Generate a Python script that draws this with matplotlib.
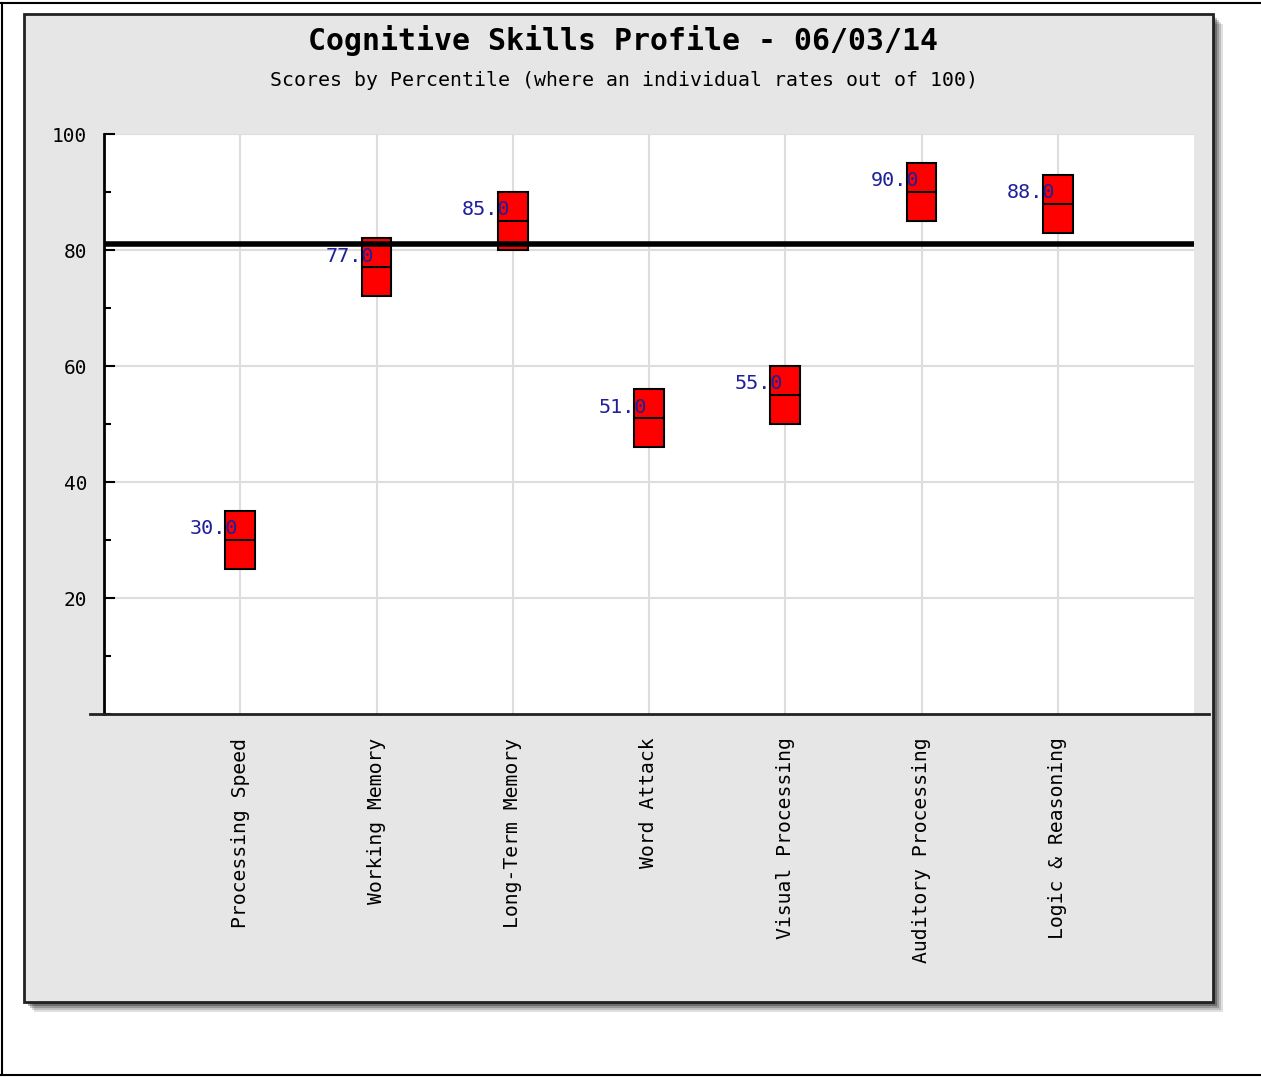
import matplotlib.pyplot as plt
from matplotlib.patches import Rectangle
from matplotlib.lines import Line2D
from matplotlib.ticker import MultipleLocator

# data
skills = ['Processing Speed', 'Working Memory', 'Long-Term Memory', 'Word Attack',
          'Visual Processing', 'Auditory Processing', 'Logic & Reasoning']
scores = [30.0, 77.0, 85.0, 51.0, 55.0, 90.0, 88.0]
lows = [25, 72, 80, 46, 50, 85, 83]
highs = [35, 82, 90, 56, 60, 95, 93]
ref_level = 81

W, H = 1261, 1077
fig = plt.figure(figsize=(W / 100, H / 100), dpi=100)
fig.patch.set_facecolor('white')


def fx(px):
    return px / W


def fy(py):
    return 1 - py / H


# outer frame (top, left, bottom)
for xs, ys in [((0, 1), (fy(3), fy(3))), ((fx(2), fx(2)), (fy(3), fy(1075))),
               ((0, 1), (fy(1075), fy(1075)))]:
    fig.add_artist(Line2D(xs, ys, color='black', lw=1.5, transform=fig.transFigure))

# shadow of the gray panel
for i, a in enumerate([0.12, 0.15, 0.2, 0.28, 0.38]):
    off = 10 - i * 2
    fig.add_artist(Rectangle((fx(24 + off), fy(1002 + off)), fx(1213 - 24), (1002 - 14) / H,
                             transform=fig.transFigure, facecolor='black', alpha=a,
                             edgecolor='none', zorder=-2))
fig.add_artist(Rectangle((fx(24), fy(1002)), fx(1213 - 24), (1002 - 14) / H,
                         transform=fig.transFigure, facecolor='#e6e6e6',
                         edgecolor='#222222', lw=2, zorder=-1))

mono = 'DejaVu Sans Mono'
fig.text(fx(623), fy(41), 'Cognitive Skills Profile - 06/03/14', ha='center', va='center',
         fontsize=21.5, fontweight='bold', family=mono)
fig.text(fx(624), fy(81), 'Scores by Percentile (where an individual rates out of 100)',
         ha='center', va='center', fontsize=14.3, family=mono)

ax = fig.add_axes([fx(104), fy(714), fx(1194 - 104), (714 - 134) / H])
ax.set_zorder(2)
ax.set_facecolor('white')
ax.set_xlim(0, 8)
ax.set_ylim(0, 100)

xs = list(range(1, len(skills) + 1))
ax.set_xticks(xs)
ax.set_xticklabels(skills, rotation=90, family=mono, fontsize=14.2, va='top')
ax.tick_params(axis='x', length=0, pad=17)
ax.yaxis.set_major_locator(MultipleLocator(20))
ax.yaxis.set_minor_locator(MultipleLocator(10))
ax.set_yticks([20, 40, 60, 80, 100])
ax.tick_params(axis='y', which='major', direction='in', length=8, width=1.5, pad=12,
               labelsize=14)
ax.tick_params(axis='y', which='minor', direction='in', length=5, width=1.5)
for lab in ax.get_yticklabels():
    lab.set_family(mono)
ax.grid(True, axis='both', which='major', color='#dddddd', lw=1.5, zorder=0)
ax.set_axisbelow(True)

for s in ['top', 'right', 'bottom']:
    ax.spines[s].set_visible(False)
ax.spines['left'].set_linewidth(2)

# extended x axis line
fig.add_artist(Line2D((fx(90), fx(1209)), (fy(714), fy(714)), color='#222222', lw=2,
                      transform=fig.transFigure, zorder=5))

heights = [h - l for h, l in zip(highs, lows)]
ax.bar(xs, heights, bottom=lows, width=0.22, color='#ff0000', edgecolor='black',
       lw=1.5, zorder=3)
ax.hlines(scores, [x - 0.11 for x in xs], [x + 0.11 for x in xs], color='black',
          lw=1.5, zorder=4)
for x, s in zip(xs, scores):
    ax.annotate(f'{s:.1f}', (x, s), xytext=(-1.5, 8), textcoords='offset points',
                ha='right', va='center', color='#1f1f9a', family=mono, fontsize=14.5,
                zorder=5)

ax.axhline(ref_level, color='black', lw=4, zorder=4)

fig.savefig('out.png', dpi=100)
